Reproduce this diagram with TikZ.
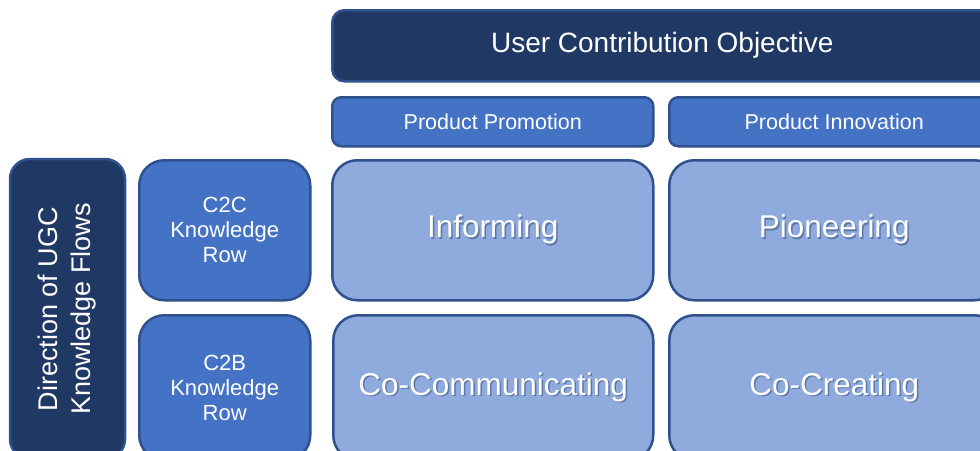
\documentclass[tikz,border=0pt]{standalone}
\usepackage{fontspec}
\setmainfont{Liberation Sans}
\definecolor{navy}{HTML}{203864}
\definecolor{midblue}{HTML}{4472C4}
\definecolor{paleblue}{HTML}{8FAADC}
\definecolor{edgeblue}{HTML}{2F528F}

\begin{document}
\begin{tikzpicture}[x=1pt, y=-1pt,
  box/.style={draw=edgeblue, line width=2.5pt, rounded corners=#1, anchor=north west, inner sep=0pt, text=white, align=center},
  dark/.style={box=#1, fill=navy},
  mid/.style={box=#1, fill=midblue},
  pale/.style={box=#1, fill=paleblue}]
\newcommand{\fs}[2]{\fontsize{#1}{#2}\selectfont}
\newcommand{\shadowed}[1]{\rlap{\kern1.5pt\raisebox{-1.5pt}{\textcolor{navy!45!paleblue}{#1}}}#1}
\clip (0,0) rectangle (980,450);
\node (objective) [dark=12pt, minimum width=660pt, minimum height=71pt, font=\fs{28}{34}] at (331,9) {User Contribution Objective};
\node (promotion) [mid=9pt, minimum width=321pt, minimum height=49pt, font=\fs{21.5}{26}] at (331,96) {Product Promotion};
\node (innovation) [mid=9pt, minimum width=330pt, minimum height=49pt, font=\fs{21.5}{26}] at (668,96) {Product Innovation};
\node (flows) [dark=20pt, anchor=center, rotate=90, minimum width=300pt, minimum height=115pt, font=\fs{27}{33}] at (67.5,309) {Direction of UGC\\Knowledge Flows};
\node (c2c) [mid=25pt, minimum width=171pt, minimum height=140pt, font=\fs{22}{25}] at (138,159) {C2C\\Knowledge\\Row};
\node (c2b) [mid=25pt, minimum width=171pt, minimum height=145pt, font=\fs{22}{25}] at (138,314) {C2B\\Knowledge\\Row};
\node (informing) [pale=25pt, minimum width=321pt, minimum height=140pt, font=\fs{31.5}{36}] at (331,159) {\shadowed{Informing}};
\node (pioneering) [pale=25pt, minimum width=330pt, minimum height=140pt, font=\fs{31.5}{36}] at (668,159) {\shadowed{Pioneering}};
\node (cocommunicating) [pale=25pt, minimum width=320pt, minimum height=145pt, font=\fs{31.5}{36}] at (332,314) {\shadowed{Co-Communicating}};
\node (cocreating) [pale=25pt, minimum width=330pt, minimum height=145pt, font=\fs{31.5}{36}] at (668,314) {\shadowed{Co-Creating}};
\end{tikzpicture}
\end{document}
